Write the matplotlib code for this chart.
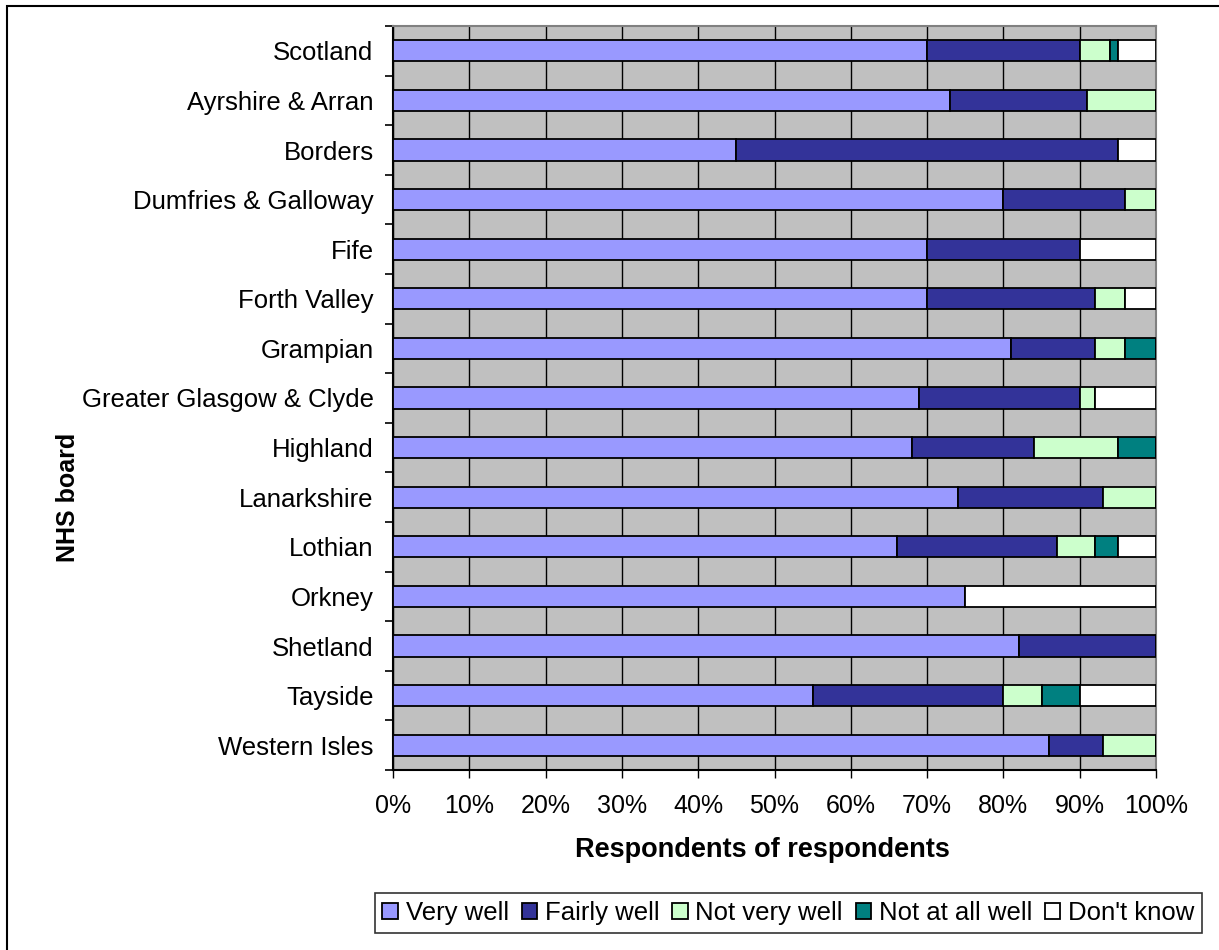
import matplotlib
matplotlib.use("Agg")
import matplotlib.pyplot as plt
import numpy as np
from matplotlib.patches import Rectangle

plt.rcParams['font.family'] = ['Liberation Sans', 'DejaVu Sans']

boards = ["Scotland", "Ayrshire & Arran", "Borders", "Dumfries & Galloway", "Fife",
          "Forth Valley", "Grampian", "Greater Glasgow & Clyde", "Highland",
          "Lanarkshire", "Lothian", "Orkney", "Shetland", "Tayside", "Western Isles"]
very_well =      [70, 73, 45, 80, 70, 70, 81, 69, 68, 74, 66, 75, 82, 55, 86]
fairly_well =    [20, 18, 50, 16, 20, 22, 11, 21, 16, 19, 21, 0, 18, 25, 7]
not_very_well =  [4, 9, 0, 4, 0, 4, 4, 2, 11, 7, 5, 0, 0, 5, 7]
not_at_all_well = [1, 0, 0, 0, 0, 0, 4, 0, 5, 0, 3, 0, 0, 5, 0]
dont_know =      [5, 0, 5, 0, 10, 4, 0, 8, 0, 0, 5, 25, 0, 10, 0]

series_names = ["Very well", "Fairly well", "Not very well", "Not at all well", "Don't know"]
series_vals = [very_well, fairly_well, not_very_well, not_at_all_well, dont_know]
colors = ["#9999FF", "#333399", "#CCFFCC", "#008080", "#FFFFFF"]
x_ticks = [0, 10, 20, 30, 40, 50, 60, 70, 80, 90, 100]

W, H = 1219, 950
fig = plt.figure(figsize=(W / 100, H / 100), dpi=100)
ax = fig.add_axes([393 / W, 1 - 770 / H, (1156 - 393) / W, (770 - 26) / H])
ax.set_facecolor("#C0C0C0")

y = np.arange(len(boards))
left = np.zeros(len(boards))
for name, vals, c in zip(series_names, series_vals, colors):
    vals = np.array(vals, dtype=float)
    ax.barh(y, vals, left=left, height=0.43, color=c, edgecolor="black",
            linewidth=1.3, label=name, zorder=3)
    left += vals

ax.set_xlim(0, 100)
ax.set_ylim(len(boards) - 0.5, -0.5)
ax.set_xticks(x_ticks)
ax.set_xticklabels([f"{t}%" for t in x_ticks])
ax.xaxis.grid(True, color="black", linewidth=1.0, zorder=1)
ax.set_axisbelow(True)

ax.set_yticks(y)
ax.set_yticklabels(boards)
ax.set_yticks(np.arange(len(boards) + 1) - 0.5, minor=True)
ax.tick_params(axis="y", which="major", length=0, pad=14, labelsize=18.5)
ax.tick_params(axis="y", which="minor", length=6, width=1.2, direction="out")
ax.tick_params(axis="x", which="major", length=6, width=1.0, direction="out", pad=11, labelsize=18)

for s in ["top", "right"]:
    ax.spines[s].set_color("#808080")
    ax.spines[s].set_linewidth(1.5)
for s in ["left", "bottom"]:
    ax.spines[s].set_color("black")
    ax.spines[s].set_linewidth(1.5)

fig.text(762 / W, 1 - 850 / H, "Respondents of respondents", fontsize=19.5, fontweight="bold",
         ha="center", va="center")
fig.text(68 / W, 1 - 497 / H, "NHS board", rotation=90, fontsize=18, fontweight="bold",
         ha="center", va="center")

handles, labels = ax.get_legend_handles_labels()
leg = fig.legend(handles, labels, loc="center", bbox_to_anchor=((375 + 1202) / 2 / W, 1 - 913 / H),
                 ncol=5, fontsize=18.5, frameon=True, fancybox=False, edgecolor="black",
                 handlelength=0.6, handleheight=0.6, handletextpad=0.3, columnspacing=0.5,
                 borderpad=0.3, borderaxespad=0)
leg.get_frame().set_linewidth(1.2)

fig.patches.append(Rectangle((7 / W, -0.05), 1.2, 1 - 6 / H + 0.05, transform=fig.transFigure,
                             fill=False, edgecolor="black", linewidth=1.5))

fig.savefig("out.png", dpi=100)
